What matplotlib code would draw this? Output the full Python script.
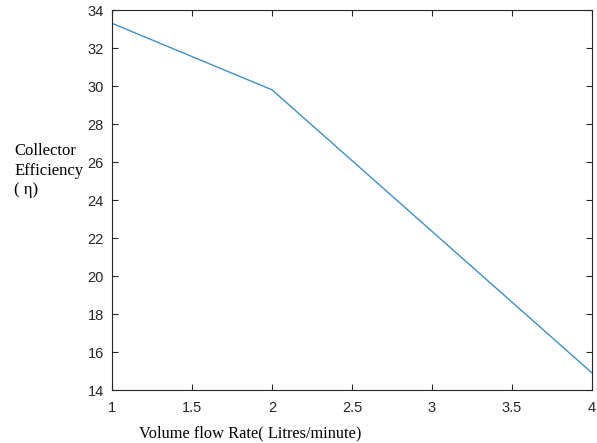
import matplotlib
matplotlib.use('Agg')
import matplotlib.pyplot as plt

flow_rate = [1, 2, 3, 4]
efficiency = [33.3, 29.8, 22.35, 14.9]

x_ticks = [1, 1.5, 2, 2.5, 3, 3.5, 4]
y_ticks = [14, 16, 18, 20, 22, 24, 26, 28, 30, 32, 34]

fig = plt.figure(figsize=(5.97, 4.43), dpi=100)
ax = fig.add_axes([0.1876, 0.1196, 0.804, 0.8578])

ax.plot(flow_rate, efficiency, color='#3f8fc4', linewidth=1.0)

ax.set_xlim(1, 4)
ax.set_ylim(14, 34)
ax.set_xticks(x_ticks)
ax.set_xticklabels(['1', '1.5', '2', '2.5', '3', '3.5', '4'])
ax.set_yticks(y_ticks)
ax.tick_params(direction='in', top=True, right=True, length=4, width=0.8,
               labelsize=10.5, colors='#262626')
ax.tick_params(axis='x', pad=8)
ax.tick_params(axis='y', pad=6)
for lab in ax.get_xticklabels() + ax.get_yticklabels():
    lab.set_family('Liberation Sans')
for s in ax.spines.values():
    s.set_color('#262626')
    s.set_linewidth(0.8)

fig.text(0.024, 0.677, 'Collector\nEfficiency\n( \u03b7)', family='Liberation Serif',
         fontsize=12, ha='left', va='top', linespacing=1.3)
fig.text(0.232, 0.004, 'Volume flow Rate( Litres/minute)', family='Liberation Serif',
         fontsize=11.8, ha='left', va='bottom')

fig.savefig('out.png', dpi=100)
